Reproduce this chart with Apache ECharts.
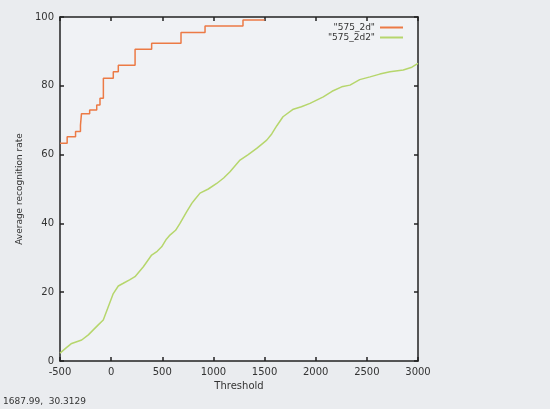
<!DOCTYPE html>
<html>
<head>
<meta charset="utf-8">
<script src="https://cdn.jsdelivr.net/npm/echarts@6/dist/echarts.min.js"></script>
<style>
html,body{margin:0;padding:0;background:#eaecef;}
#c{width:550px;height:409px;}
</style>
</head>
<body>
<div id="c"></div>
<script>
const seriesNames = ['"575_2d"', '"575_2d2"'];
const xTicks = [-500, 0, 500, 1000, 1500, 2000, 2500, 3000];
const yTicks = [0, 20, 40, 60, 80, 100];

const orangeX = [-500, -430, -348, -300, -290, -210, -141, -109, -76, 21, 70, 234, 396, 683, 918, 1289, 1500];
const orangeY = [63.3, 65.2, 66.7, 68.5, 71.9, 73.0, 74.4, 76.4, 82.2, 84.1, 86.0, 90.6, 92.4, 95.5, 97.4, 99.1, 99.1];

const greenX = [-500, -440, -386, -288, -223, -170, -126, -77, -28, 21, 70, 119, 180, 233, 315, 396, 450, 494, 540, 575, 630, 673, 739, 790, 820, 869, 950, 1032, 1100, 1162, 1260, 1340, 1423, 1480, 1521, 1570, 1620, 1680, 1781, 1860, 1944, 2074, 2160, 2254, 2335, 2430, 2531, 2626, 2726, 2856, 2940, 3000];
const greenY = [2.3, 3.8, 5.1, 6.1, 7.6, 9.2, 10.5, 11.9, 15.8, 19.6, 21.8, 22.6, 23.6, 24.5, 27.4, 30.8, 31.9, 33.2, 35.4, 36.6, 38.0, 40.0, 43.4, 45.9, 47.0, 48.8, 50.0, 51.6, 53.2, 55.0, 58.4, 60.0, 61.8, 63.2, 64.2, 66.0, 68.4, 71.0, 73.2, 73.9, 74.9, 76.8, 78.4, 79.7, 80.2, 81.8, 82.6, 83.4, 84.1, 84.6, 85.4, 86.5];

const statusText = '1687.99,  30.3129';

const pair = (xs, ys) => xs.map((x, i) => [x, ys[i]]);
const font = 'DejaVu Sans';
const txt = '#333';

const chart = echarts.init(document.getElementById('c'), null, {renderer: 'canvas'});
const axisLine = {show: true, onZero: false, lineStyle: {color: '#222', width: 1.5}};
const ticks = {show: true, inside: true, length: 4, lineStyle: {color: '#222', width: 1.5}};
const plain = v => String(v);
chart.setOption({
  animation: false,
  backgroundColor: '#eaecef',
  grid: {left: 60, top: 17, width: 358, height: 344, show: true, backgroundColor: '#f0f2f5', borderWidth: 0},
  legend: {
    orient: 'vertical', align: 'right', right: 142, top: 18, itemGap: 1,
    itemWidth: 23, itemHeight: 2, icon: 'rect',
    textStyle: {fontFamily: font, fontSize: 9, color: txt},
    data: seriesNames
  },
  xAxis: [{
    type: 'value', min: xTicks[0], max: xTicks[xTicks.length - 1], interval: 500,
    name: 'Threshold', nameLocation: 'middle', nameGap: 19,
    nameTextStyle: {fontFamily: font, fontSize: 10, color: txt},
    axisLine: axisLine, axisTick: ticks, splitLine: {show: false},
    axisLabel: {fontFamily: font, fontSize: 10, color: txt, margin: 6, formatter: plain}
  }, {
    type: 'value', position: 'top', min: xTicks[0], max: xTicks[xTicks.length - 1], interval: 500,
    axisLine: axisLine, axisTick: ticks, splitLine: {show: false}, axisLabel: {show: false}
  }],
  yAxis: [{
    type: 'value', min: yTicks[0], max: yTicks[yTicks.length - 1], interval: 20,
    name: 'Average recognition rate', nameLocation: 'middle', nameGap: 36,
    nameTextStyle: {fontFamily: font, fontSize: 9, color: txt},
    axisLine: axisLine, axisTick: ticks, splitLine: {show: false},
    axisLabel: {fontFamily: font, fontSize: 10, color: txt, margin: 6, formatter: plain}
  }, {
    type: 'value', position: 'right', min: yTicks[0], max: yTicks[yTicks.length - 1], interval: 20,
    axisLine: axisLine, axisTick: ticks, splitLine: {show: false}, axisLabel: {show: false}
  }],
  series: [{
    name: seriesNames[0], type: 'line', step: 'end', showSymbol: false,
    data: pair(orangeX, orangeY),
    itemStyle: {color: '#ec7a45'},
    lineStyle: {color: '#ec7a45', width: 1.5}
  }, {
    name: seriesNames[1], type: 'line', showSymbol: false,
    data: pair(greenX, greenY),
    itemStyle: {color: '#b6d66c'},
    lineStyle: {color: '#b6d66c', width: 1.5}
  }],
  graphic: [{
    type: 'text', left: 3, top: 397,
    style: {text: statusText, fontFamily: font, fontSize: 9, fill: txt}
  }]
});
</script>
</body>
</html>
